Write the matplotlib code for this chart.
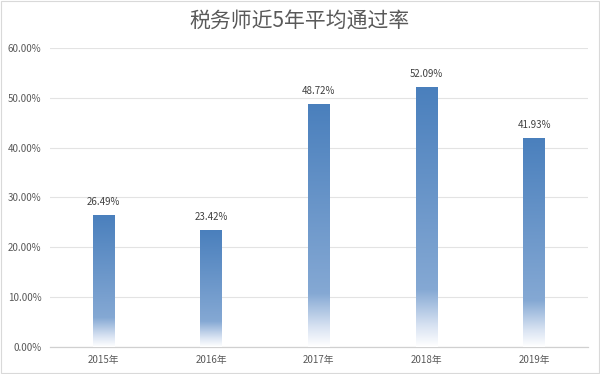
import matplotlib
matplotlib.use('Agg')

import matplotlib.pyplot as plt
import numpy as np
from matplotlib.colors import LinearSegmentedColormap
from matplotlib.ticker import PercentFormatter

plt.rcParams['font.family'] = ['Noto Sans CJK SC', 'DejaVu Sans']

# data
years = ["2015年", "2016年", "2017年", "2018年", "2019年"]
rates = [26.49, 23.42, 48.72, 52.09, 41.93]
title = "税务师近5年平均通过率"

# gradient: white at the bottom, blue at the top
grad = LinearSegmentedColormap.from_list("bar_grad", [
    (0.0, (1.0, 1.0, 1.0)),
    (0.08, (0.85, 0.89, 0.95)),
    (0.22, (0.52, 0.66, 0.83)),
    (1.0, (0.29, 0.50, 0.74)),
])

fig = plt.figure(figsize=(6, 3.74), dpi=100)
ax = fig.add_axes([0.083, 0.072, 0.897, 0.8])

x = np.arange(len(years))
bar_w = 0.2
bars = ax.bar(x, rates, width=bar_w, color='none', zorder=3)

# fill every bar with a vertical gradient
g = np.linspace(0, 1, 256).reshape(-1, 1)
for b in bars:
    x0 = b.get_x()
    h = b.get_height()
    im = ax.imshow(g, cmap=grad, origin='lower', aspect='auto',
                   extent=[x0, x0 + b.get_width(), 0, h], zorder=3)
    im.set_clip_path(b)

for xi, v in zip(x, rates):
    ax.text(xi, v + 1.6, f"{v:.2f}%", ha='center', va='bottom',
            fontsize=7, color='#404040', zorder=4)

ax.set_xlim(-0.5, len(years) - 0.5)
ax.set_ylim(0, 60)
ax.set_yticks(np.arange(0, 61, 10))
ax.yaxis.set_major_formatter(PercentFormatter(decimals=2))
ax.set_xticks(x)
ax.set_xticklabels(years)
ax.tick_params(axis='both', length=0, labelsize=7, colors='#595959')
ax.tick_params(axis='y', pad=6)
ax.tick_params(axis='x', pad=6)

ax.grid(axis='y', color='#e3e3e3', linewidth=0.8, zorder=0)
for s in ['top', 'right', 'left']:
    ax.spines[s].set_visible(False)
ax.spines['bottom'].set_color('#d0d0d0')
ax.spines['bottom'].set_linewidth(0.9)

fig.text(0.5, 0.945, title, ha='center', va='center', fontsize=15,
         color='#595959')

# light frame around the chart
fig.patches.append(plt.Rectangle((0.002, 0.002), 0.996, 0.996,
                                 transform=fig.transFigure, fill=False,
                                 edgecolor='#d9d9d9', linewidth=0.8))

fig.savefig("out.png", dpi=100)
